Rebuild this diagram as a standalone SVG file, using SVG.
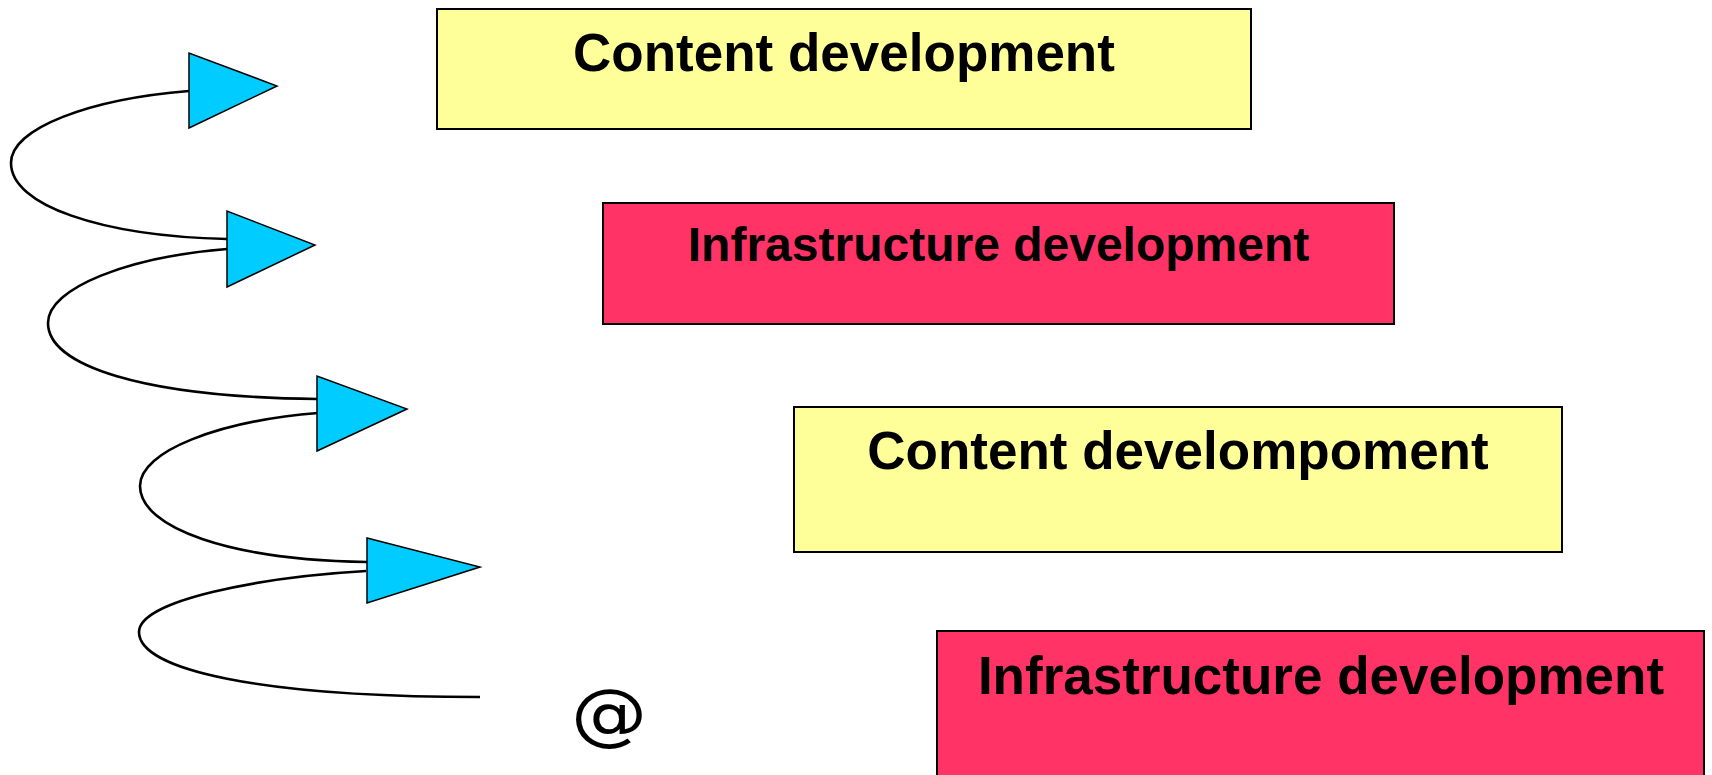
<svg xmlns="http://www.w3.org/2000/svg" width="1712" height="775" viewBox="0 0 1712 775">
<style>
.box{stroke:#000;stroke-width:2}
.yellow{fill:#FFFF99}
.red{fill:#FF3366}
.lbl{font-family:"Liberation Sans",Arial,sans-serif;font-weight:bold;text-anchor:middle;fill:#000}
.curve{fill:none;stroke:#000;stroke-width:2.6}
.tri{fill:#00CCFF;stroke:#000;stroke-width:1.5;stroke-linejoin:miter}
</style>
<rect width="1712" height="775" fill="#fff"/>
<g id="connectors">
<path class="curve" d="M189,91 C90,99 11,128 11,163 C11,205 100,236 227,239"/>
<path class="curve" d="M227,249 C128,257 48,288 48,323 C48,365 140,397 317,399"/>
<path class="curve" d="M318,413 C219,421 140,451 140,486 C140,528 230,560 367,562"/>
<path class="curve" d="M366,571 C262,577 139,600 139,632 C139,670 260,697 480,697"/>
<polygon class="tri" points="189,53 189,128 277,86"/>
<polygon class="tri" points="227,211 227,287 315,245"/>
<polygon class="tri" points="317,376 317,451 407,409"/>
<polygon class="tri" points="367,538 367,603 480,567"/>
</g>
<g id="node1">
<rect class="box yellow" x="437" y="9" width="814" height="120"/>
<text class="lbl" x="844" y="71" font-size="53">Content development</text>
</g>
<g id="node2">
<rect class="box red" x="603" y="203" width="791" height="121"/>
<text class="lbl" x="998.5" y="261" font-size="48">Infrastructure development</text>
</g>
<g id="node3">
<rect class="box yellow" x="794" y="407" width="768" height="145"/>
<text class="lbl" x="1178" y="469" font-size="53">Content develompoment</text>
</g>
<g id="node4">
<rect class="box red" x="937" y="631" width="767" height="160"/>
<text class="lbl" x="1321" y="694" font-size="53">Infrastructure development</text>
</g>
<g id="at" transform="translate(609,0) scale(1.12,1) translate(-609,0)">
<text x="609" y="737" font-size="68" text-anchor="middle" font-family="'DejaVu Sans',sans-serif" fill="#000">@</text>
</g>
</svg>
